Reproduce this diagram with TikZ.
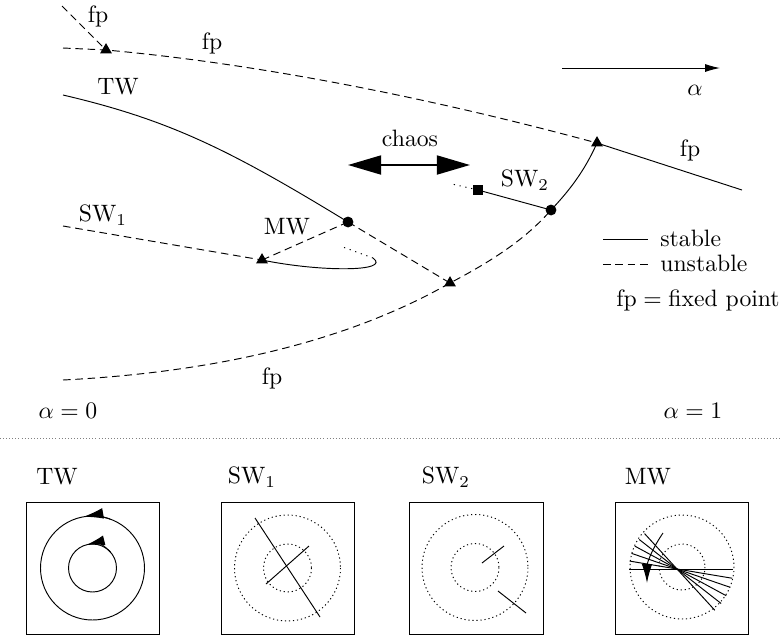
\documentclass[tikz,border=0pt]{standalone}
\usepackage{amsmath}
\usepackage{tikz}
\usetikzlibrary{arrows.meta, positioning, shapes}

\begin{document}
\begin{tikzpicture}[x=0.422pt, y=-0.422pt,
  tri/.style={regular polygon, regular polygon sides=3, fill=black, inner sep=0pt, minimum size=5.8pt},
  blob/.style={circle, fill=black, inner sep=0pt, minimum size=4.6pt},
  sqr/.style={rectangle, fill=black, inner sep=0pt, minimum size=4pt},
  unst/.style={dash pattern=on 3.2pt off 2pt},
  ring/.style={dash pattern=on 0.5pt off 1.2pt},
  sparse/.style={dash pattern=on 0.5pt off 2pt}]
  \useasboundingbox (0,0) rectangle (780,637);

  % Branch points and free ends
  \coordinate (tA) at (106,50);
  \coordinate (tB) at (597,143);
  \coordinate (tC) at (262,260);
  \coordinate (tD) at (450,283);
  \coordinate (pMW) at (348,222);
  \coordinate (pSW) at (551,210);
  \coordinate (qSW) at (478,190);
  \coordinate (fpTop) at (62,6);
  \coordinate (fpLeft) at (63,48);
  \coordinate (fpRight) at (742,190);
  \coordinate (twLeft) at (63,95);
  \coordinate (swLeft) at (63,226);
  \coordinate (fpLow) at (63,380);
  \coordinate (loopEnd) at (373,258);
  \coordinate (loopDot) at (340,246);
  \coordinate (swDot) at (452,184);

  % Branches
  \draw[unst] (fpTop) -- (tA);
  \draw[unst] (fpLeft) -- (tA) .. controls (250,63) and (420,95) .. (tB);
  \draw (tB) -- (fpRight);
  \draw (twLeft) .. controls (170,120) and (230,150) .. (pMW);
  \draw[unst] (swLeft) -- (tC);
  \draw[unst] (pMW) -- (tC);
  \draw (tC) .. controls (320,272) and (392,272) .. (loopEnd);
  \draw[sparse] (loopEnd) -- (loopDot);
  \draw[unst] (pMW) -- (tD);
  \draw[unst] (fpLow) .. controls (220,372) and (350,340) .. (tD)
                      .. controls (490,262) and (525,240) .. (pSW);
  \draw (pSW) -- (qSW);
  \draw[sparse] (qSW) -- (swDot);
  \draw (pSW) .. controls (570,190) and (585,170) .. (tB);

  % Markers
  \node[tri] (mA) at (tA) {};
  \node[tri] (mB) at (tB) {};
  \node[tri] (mC) at (tC) {};
  \node[tri] (mD) at (tD) {};
  \node[blob] (mMW) at (pMW) {};
  \node[blob] (mSW) at (pSW) {};
  \node[sqr] (mSq) at (qSW) {};

  % Labels
  \node (lfpA) at (98,16) {fp};
  \node (lfpB) at (212,43) {fp};
  \node (lTW) at (118,87) {TW};
  \node (lSWa) at (103,215) {SW$_1$};
  \node (lMW) at (287,227) {MW};
  \node (lchaos) at (410,138) {chaos};
  \node (lSWb) at (525,180) {SW$_2$};
  \node (lfpC) at (690,150) {fp};
  \node (lfpD) at (272,378) {fp};

  % Parameter arrow
  \coordinate (alS) at (562,68);
  \coordinate (alE) at (720,68);
  \draw[-{Latex[length=6.3pt,width=3.4pt]}] (alS) -- (alE);
  \node (lalpha) at (695,90) {$\alpha$};

  % Chaos window
  \coordinate (chL) at (348,165);
  \coordinate (chR) at (470,165);
  \draw[{Triangle[length=14pt,width=8pt]}-{Triangle[length=14pt,width=8pt]}, line width=0.9pt]
       (chL) -- (chR);

  % Legend
  \coordinate (lgA) at (603,239);
  \coordinate (lgB) at (648,239);
  \coordinate (lgC) at (603,264);
  \coordinate (lgD) at (648,264);
  \draw (lgA) -- (lgB);
  \draw[unst] (lgC) -- (lgD);
  \node[anchor=west] (lstab) at (652,238) {stable};
  \node[anchor=west] (lunst) at (652,263) {unstable};
  \node[anchor=west] (lfix) at (608,300) {fp${}={}$fixed point};

  \node (la0) at (68,411) {$\alpha=0$};
  \node (la1) at (693,411) {$\alpha=1$};

  % Separator
  \coordinate (sepL) at (0,438);
  \coordinate (sepR) at (780,438);
  \draw[gray, dash pattern=on 0.4pt off 0.9pt] (sepL) -- (sepR);

  % === Panel TW ===
  \coordinate (cTW) at (92.5,568);
  \draw (26,502) rectangle (159,634);
  \draw (cTW) circle (52);
  \draw (cTW) circle (24);
  \draw[-{Latex[length=8.4pt,width=4.5pt]}] ([shift={(-70:52)}]cTW) arc (-70:-100:52);
  \draw[-{Latex[length=7.6pt,width=4.2pt]}] ([shift={(-40:24)}]cTW) arc (-40:-104:24);
  \node (pTW) at (57,477) {TW};

  % === Panel SW1 ===
  \coordinate (cSA) at (287.5,568);
  \draw (221,502) rectangle (354,634);
  \draw[ring] (cSA) circle (53);
  \draw[ring] (cSA) circle (24);
  \draw ([shift={(-32.5,-50)}]cSA) -- ([shift={(32.5,49)}]cSA);
  \draw ([shift={(-21.5,16)}]cSA) -- ([shift={(21.5,-22)}]cSA);
  \node (pSA) at (252,477) {SW$_1$};

  % === Panel SW2 ===
  \coordinate (cSB) at (475,567.5);
  \draw (409,502) rectangle (543,634);
  \draw[ring] (cSB) circle (53);
  \draw[ring] (cSB) circle (24);
  \draw ([shift={(7,-4.5)}]cSB) -- ([shift={(29,-21.5)}]cSB);
  \draw ([shift={(23,23.5)}]cSB) -- ([shift={(51,45.5)}]cSB);
  \node (pSB) at (446,477) {SW$_2$};

  % === Panel MW ===
  \coordinate (cMW) at (682,567);
  \coordinate (fanMW) at (677,569);
  \draw (615,502) rectangle (748,634);
  \draw[ring] (cMW) circle (52);
  \draw[ring] (cMW) circle (23);
  \foreach \a in {0,9.5,19,28.5,38,47.5}{
    \draw ([shift={(180+\a:48)}]fanMW) -- ([shift={(\a:56)}]fanMW);
  }
  \coordinate (arS) at (663,533);
  \coordinate (arE) at (647,583);
  \draw[-{Latex[length=8pt,width=4.4pt]}] (arS) .. controls (650,552) and (647,565) .. (arE);
  \node (pMWl) at (648,477) {MW};
\end{tikzpicture}
\end{document}
